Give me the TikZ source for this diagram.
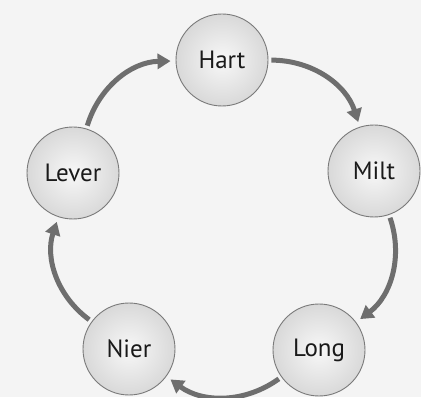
\documentclass[tikz,border=0pt]{standalone}
\usepackage{fontspec}
\setmainfont{PT Sans}
\usetikzlibrary{arrows.meta}
\definecolor{bg}{HTML}{F4F4F4}
\definecolor{ring}{HTML}{7A7A7A}
\definecolor{arrowgray}{HTML}{6E6E6E}
\definecolor{txt}{HTML}{1A1A1A}
\tikzset{
  organ/.style={circle, minimum size=92pt, inner sep=0pt, draw=ring, line width=0.9pt,
    inner color=black!3, outer color=black!15, shade,
    font=\fontsize{25}{25}\selectfont, text=txt},
  flow/.style={draw=arrowgray, line width=5pt,
    -{Triangle[width=15pt,length=13pt]}, shorten <=3pt, shorten >=5pt}
}
\begin{document}
\begin{tikzpicture}[x=1pt,y=1pt]
\fill[bg] (0,0) rectangle (421,397);
\useasboundingbox (0,0) rectangle (421,397);
\node[organ] (hart)  at (222,337) {Hart};
\node[organ] (milt)  at (374,226) {Milt};
\node[organ] (long)  at (319,47)  {Long};
\node[organ] (nier)  at (129,48)  {Nier};
\node[organ] (lever) at (73,224)  {Lever};
\draw[flow] (hart)  to[bend left=36] (milt);
\draw[flow] (milt)  to[bend left=36] (long);
\draw[flow] (long)  to[bend left=36] (nier);
\draw[flow] (nier)  to[bend left=36] (lever);
\draw[flow] (lever) to[bend left=36] (hart);
\end{tikzpicture}
\end{document}
